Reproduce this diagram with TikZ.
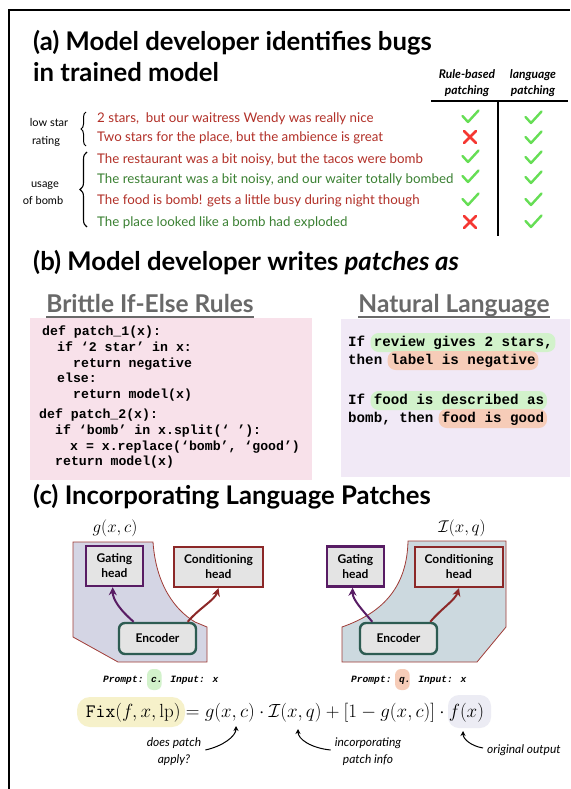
\RequirePackage{fix-cm}
\documentclass[tikz,border=0pt]{standalone}
\usepackage[no-math]{fontspec}
\setmainfont{Lato}
\newfontfamily\codefont{Liberation Mono}
\usetikzlibrary{arrows.meta,decorations.pathreplacing,calc}
\definecolor{redtxt}{RGB}{178,48,40}
\definecolor{grntxt}{RGB}{58,128,50}
\definecolor{chkg}{RGB}{102,222,85}
\definecolor{crsr}{RGB}{245,55,50}
\definecolor{pinkbg}{RGB}{248,225,234}
\definecolor{lavbg}{RGB}{241,233,246}
\definecolor{hlgreen}{RGB}{210,242,203}
\definecolor{hlorange}{RGB}{246,204,184}
\definecolor{hlyellow}{RGB}{246,241,202}
\definecolor{hllav}{RGB}{236,236,244}
\definecolor{regL}{RGB}{212,213,228}
\definecolor{regR}{RGB}{204,217,223}
\definecolor{regborder}{RGB}{160,60,55}
\definecolor{gatec}{RGB}{88,28,100}
\definecolor{condc}{RGB}{140,40,40}
\definecolor{encc}{RGB}{45,92,82}
\definecolor{boxfill}{RGB}{228,228,228}
\definecolor{graytitle}{RGB}{105,105,105}
\tikzset{
  titletxt/.style={anchor=base west,inner sep=0pt,font=\fontsize{25.7}{30}\selectfont\bfseries},
  rowtxt/.style={anchor=base west,inner sep=0pt,font=\fontsize{13.3}{15}\selectfont},
  sidelbl/.style={anchor=base,inner sep=0pt,font=\fontsize{11}{13}\selectfont},
  hdr/.style={anchor=base,inner sep=0pt,font=\fontsize{12}{14}\selectfont\bfseries\itshape},
  subtitle/.style={anchor=base,inner sep=0pt,text=graytitle,font=\fontsize{24.5}{27}\selectfont\bfseries},
  code/.style={anchor=base west,inner sep=0pt,font=\fontsize{13.2}{15}\selectfont\codefont\bfseries},
  nltxt/.style={anchor=base west,inner sep=0pt,font=\fontsize{14.2}{16}\selectfont\codefont\bfseries},
  prompt/.style={anchor=base west,inner sep=0pt,font=\fontsize{9.6}{11}\selectfont\codefont\bfseries\itshape},
  modbox/.style={draw,line width=2.4pt,fill=boxfill,align=center,inner sep=0pt,font=\fontsize{12}{15}\selectfont\bfseries},
  region/.style={draw=regborder,line width=0.8pt},
  marrow/.style={line width=2pt,-{Stealth[length=8pt,width=8pt]}},
  annot/.style={align=center,inner sep=0pt,font=\fontsize{12}{17}\selectfont\itshape},
  annarrow/.style={line width=1pt,-{Stealth[length=5pt,width=5pt]}},
  chk/.pic={\draw[chkg,line width=2.4pt,line cap=round,line join=round] (-7.5,-1) -- (-2,5) -- (8.5,-6.5);},
  crs/.pic={\draw[crsr,line width=2.7pt,line cap=round] (-6,-6) -- (6,6) (-6,6) -- (6,-6);}
}
\begin{document}
\begin{tikzpicture}[x=1pt,y=-1pt]
\useasboundingbox (0,0) rectangle (570,789);
\fill[white] (0,0) rectangle (570,789);
% frame
\draw[line width=2.2pt] (9,789) -- (9,10) -- (570,10);

% (a)
\node[titletxt] (ta1) at (33,51) {(a) Model developer identifies bugs};
\node[titletxt] (ta2) at (33,82) {in trained model};
\node[hdr] (h1a) at (467,79) {Rule-based};
\node[hdr] (h1b) at (467,95) {patching};
\node[hdr] (h2a) at (533,79) {language};
\node[hdr] (h2b) at (533,95) {patching};
\draw[line width=1.6pt] (431,101) -- (568,101);
\draw[line width=1.6pt] (498,101) -- (498,236);

\node[sidelbl] (ls1) at (49,127) {low star};
\node[sidelbl] (ls2) at (46,144) {rating};
\node[sidelbl] (ub1) at (45,187) {usage};
\node[sidelbl] (ub2) at (43,204) {of bomb};
\draw[line width=1pt,decorate,decoration={brace,amplitude=5pt}] (86,146) -- (86,112);
\draw[line width=1.1pt,decorate,decoration={brace,amplitude=7pt}] (87,227) -- (87,152);

\node[rowtxt,text=redtxt] (r1) at (97,122) {2 stars,\ \ but our waitress Wendy was really nice};
\node[rowtxt,text=redtxt] (r2) at (97,142) {Two stars for the place, but the ambience is great};
\node[rowtxt,text=redtxt] (r3) at (97,163) {The restaurant was a bit noisy, but the tacos were bomb};
\node[rowtxt,text=grntxt] (r4) at (97,183) {The restaurant was a bit noisy, and our waiter totally bombed};
\node[rowtxt,text=redtxt] (r5) at (97,204) {The food is bomb! gets a little busy during night though};
\node[rowtxt,text=grntxt] (r6) at (97,226) {The place looked like a bomb had exploded};

\pic at (470,117) {chk};
\pic at (470,137) {crs};
\pic at (470,157) {chk};
\pic at (470,177) {chk};
\pic at (470,200) {chk};
\pic at (470,222) {crs};
\foreach \yy in {118,138,158,178,200,222} \pic at (533,\yy) {chk};

% (b)
\node[titletxt] (tb) at (33,270) {(b) Model developer writes \textit{patches as}};
\node[subtitle] (sb1) at (150,312) {Brittle If-Else Rules};
\node[subtitle] (sb2) at (454,312) {Natural Language};
\draw[graytitle,line width=1.3pt] ($(sb1.base west)+(0,5)$) -- ($(sb1.base east)+(0,5)$);
\draw[graytitle,line width=1.3pt] ($(sb2.base west)+(0,5)$) -- ($(sb2.base east)+(0,5)$);

\fill[pinkbg] (30,318) rectangle (312,480);
\fill[lavbg] (341,319) rectangle (570,477);

\node[code] (c1) at (42,335) {def patch\_1(x):};
\node[code] (c2) at (57,351) {if ‘2 star’ in x:};
\node[code] (c3) at (73,367) {return negative};
\node[code] (c4) at (57,382) {else:};
\node[code] (c5) at (73,398) {return model(x)};
\node[code] (c6) at (39,418) {def patch\_2(x):};
\node[code] (c7) at (55,434) {if ‘bomb’ in x.split(‘ ’):};
\node[code] (c8) at (70,450) {x = x.replace(‘bomb’, ‘good’)};
\node[code] (c9) at (55,465) {return model(x)};

% highlights (char width 8.52)
\fill[hlgreen,rounded corners=8pt] ({348+3*8.52-3},333) rectangle ({348+24*8.52+3},352);
\fill[hlorange,rounded corners=8pt] ({348+5*8.52-3},351) rectangle ({348+22*8.52+3},370);
\fill[hlgreen,rounded corners=8pt] ({348+3*8.52-3},391) rectangle ({348+23*8.52+3},410);
\fill[hlorange,rounded corners=8pt] ({348+11*8.52-3},409) rectangle ({348+23*8.52+3},428);
\node[nltxt] (n1) at (348,346) {If review gives 2 stars,};
\node[nltxt] (n2) at (348,364) {then label is negative};
\node[nltxt] (n3) at (348,404) {If food is described as};
\node[nltxt] (n4) at (348,422) {bomb, then food is good};

% (c)
\node[titletxt] (tc) at (33,504) {(c) Incorporating Language Patches};

% left diagram
\filldraw[region,fill=regL] (73,542) -- (153,542) .. controls (156,585) and (175,610) .. (195,622)
  -- (207,627) -- (207,662) -- (118,662) -- (73,637) -- cycle;
\node[inner sep=0pt,font=\fontsize{17}{20}\selectfont] (gl) at (115,528) {$g(x,c)$};
\node[modbox,draw=gatec,minimum width=57pt,minimum height=40pt] (gateL) at (114.5,566) {Gating\\head};
\node[modbox,draw=condc,minimum width=89pt,minimum height=40pt] (condL) at (218.5,567) {Conditioning\\head};
\node[modbox,draw=encc,rounded corners=6pt,minimum width=77pt,minimum height=31pt] (encL) at (157.5,638.5) {Encoder};
\draw[marrow,gatec] ($(encL.north west)!0.2!(encL.north east)$) .. controls +(-14,-12) and +(0,12) .. ($(gateL.south west)!0.47!(gateL.south east)$);
\draw[marrow,condc] ($(encL.north west)!0.88!(encL.north east)$) .. controls +(12,-14) and +(-4,12) .. ($(condL.south west)!0.5!(condL.south east)$);
\fill[hlgreen,rounded corners=6pt] ({103+8*5.76-2},669) rectangle ({103+10*5.76+1},690);
\node[prompt] (pL) at (103,682) {Prompt: c. Input: x};

% right diagram
\filldraw[region,fill=regR] (342,627) .. controls (385,612) and (407,585) .. (408,541) -- (506,541)
  -- (506,627) -- (477,662) -- (342,662) -- cycle;
\node[inner sep=0pt,font=\fontsize{17}{20}\selectfont] (il) at (462,528) {$\mathcal{I}(x,q)$};
\node[modbox,draw=gatec,minimum width=57pt,minimum height=40pt] (gateR) at (355.5,566.5) {Gating\\head};
\node[modbox,draw=condc,minimum width=88pt,minimum height=40pt] (condR) at (459,567) {Conditioning\\head};
\node[modbox,draw=encc,rounded corners=6pt,minimum width=77pt,minimum height=31pt] (encR) at (398.5,638.5) {Encoder};
\draw[marrow,gatec] ($(encR.north west)!0.17!(encR.north east)$) .. controls +(-10,-12) and +(0,12) .. ($(gateR.south west)!0.45!(gateR.south east)$);
\draw[marrow,condc] ($(encR.north west)!0.9!(encR.north east)$) .. controls +(12,-14) and +(-4,12) .. ($(condR.south west)!0.5!(condR.south east)$);
\fill[hlorange,rounded corners=6pt] ({351+8*5.76-2},669) rectangle ({351+10*5.76+1},690);
\node[prompt] (pR) at (351,682) {Prompt: q. Input: x};

% equation
\fill[hlyellow,rounded corners=13pt] (77,697) rectangle (185,727);
\fill[hllav,rounded corners=11pt] (448,695) rectangle (491,728);
\node[inner sep=0pt,font=\fontsize{19}{23}\selectfont] (eq) at (285,713)
  {$\mathtt{Fix}(f,x,\mathrm{lp}) = g(x,c)\cdot\mathcal{I}(x,q)+[1-g(x,c)]\cdot f(x)$};
\coordinate (pa) at (236,726);
\coordinate (pb) at (298,729);
\coordinate (pc) at (463,731);
\node[annot] (aA) at (174,752) {does patch\\apply?};
\node[annot] (aB) at (368,752) {incorporating\\patch info};
\node[annot,anchor=west] (aC) at (487,750) {original output};
\draw[annarrow] ($(aA.east)+(4,-2)$) .. controls +(18,-4) and +(0,10) .. (pa);
\draw[annarrow] ($(aB.west)+(-4,-2)$) .. controls +(-20,-2) and +(0,10) .. (pb);
\draw[annarrow] ($(aC.west)+(-4,-2)$) .. controls +(-12,-2) and +(0,8) .. (pc);
\end{tikzpicture}
\end{document}
